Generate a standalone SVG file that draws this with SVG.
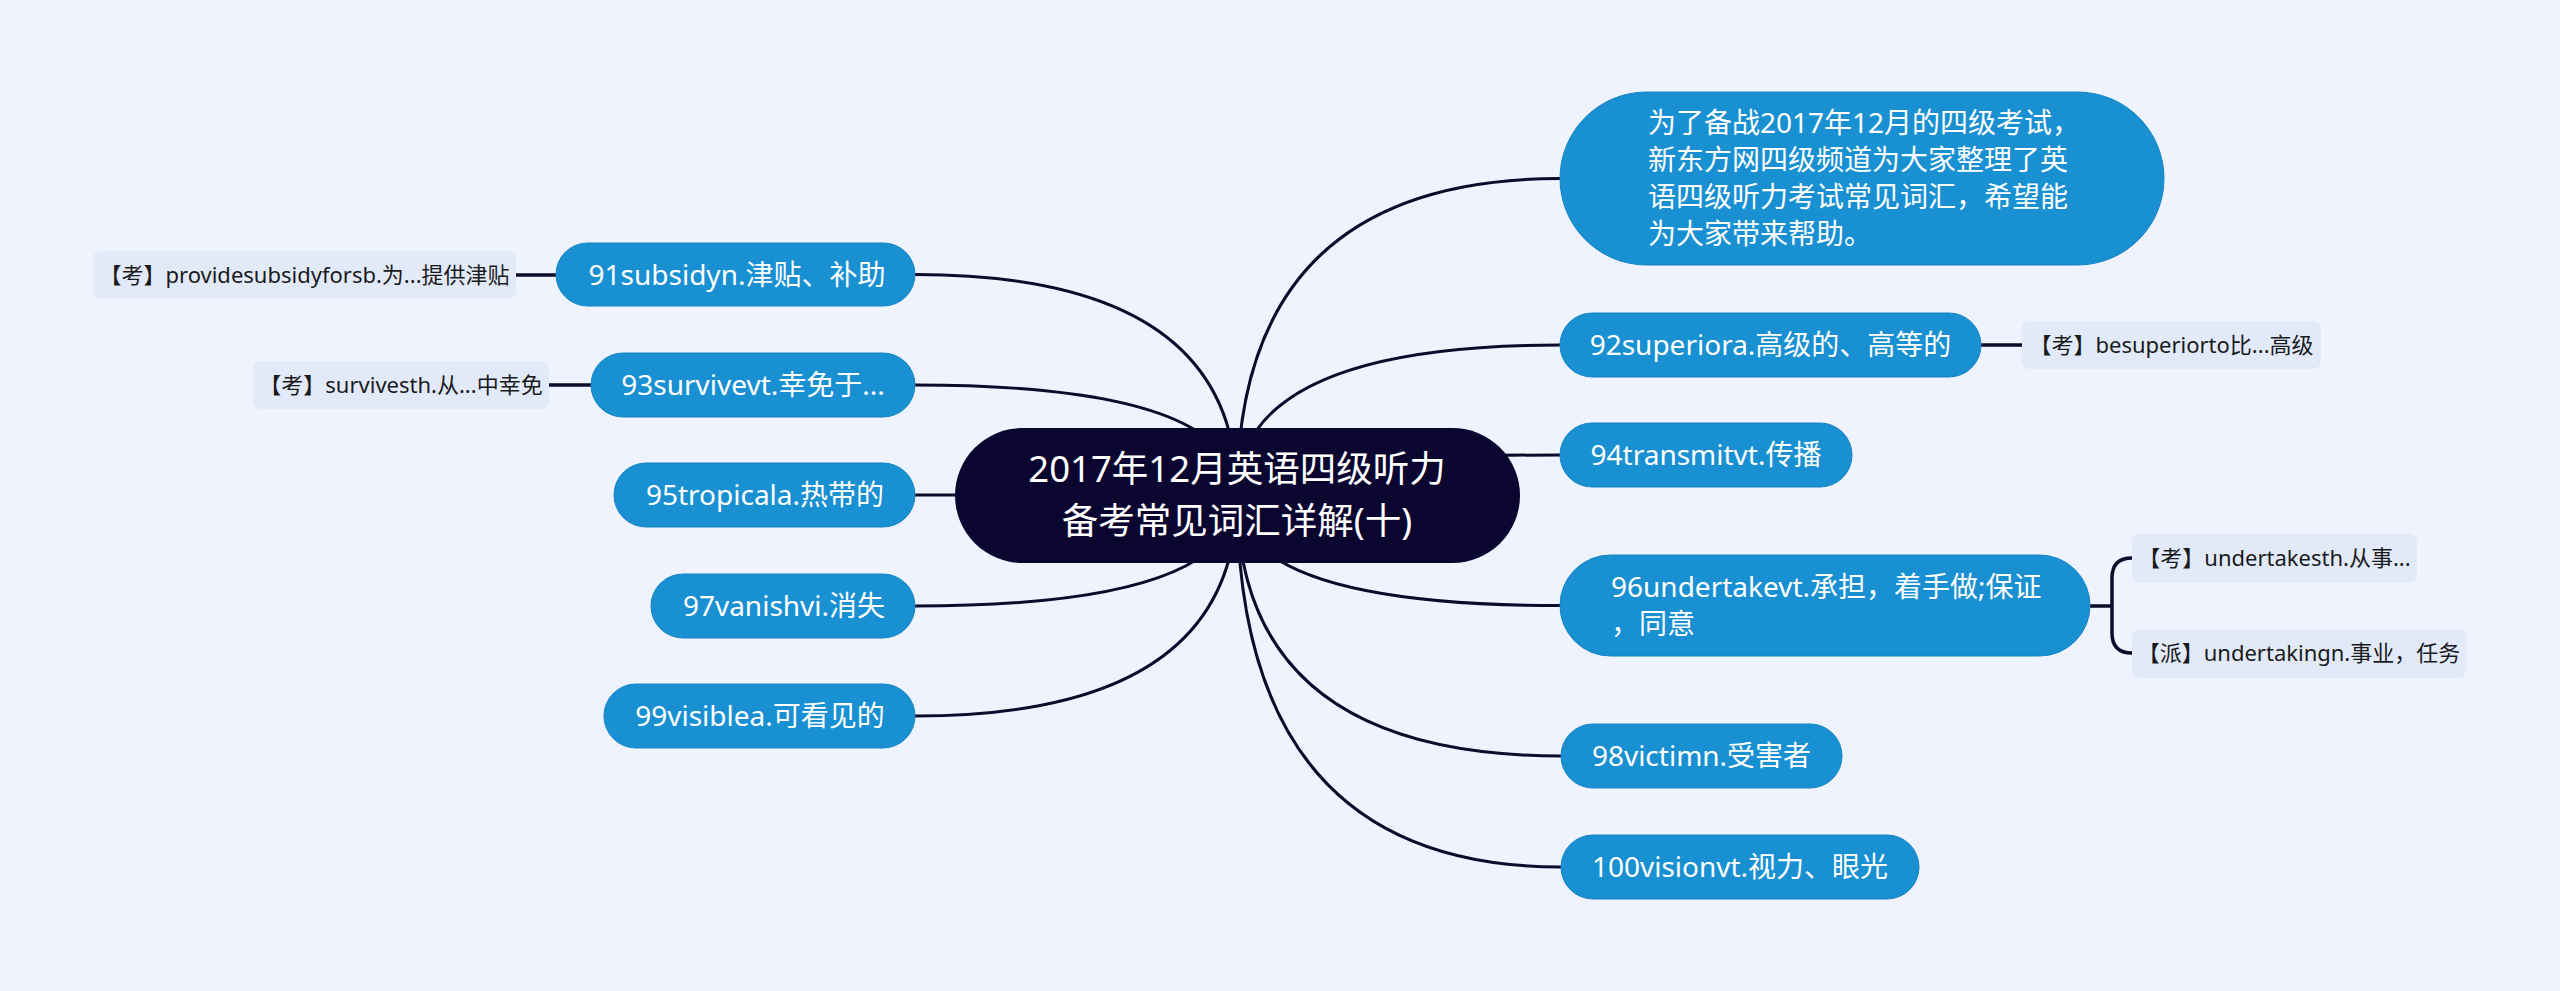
<svg xmlns="http://www.w3.org/2000/svg" width="2560" height="991" viewBox="0 0 2560 991">
<style>
.bg{fill:#eef3fd}
.root{fill:#0b0630}
.blue{fill:#1990d2;stroke:#1683c4;stroke-width:1}
.sub{fill:#e2eafa}
.rt{font-family:"Noto Sans","Noto Sans CJK SC",sans-serif;font-size:36.5px;fill:#ffffff;text-anchor:middle}
.bt{font-family:"Noto Sans","Noto Sans CJK SC",sans-serif;font-size:28px;fill:#ffffff;text-anchor:middle}
.bl{font-family:"Noto Sans","Noto Sans CJK SC",sans-serif;font-size:28px;fill:#ffffff}
.st{font-family:"Noto Sans","Noto Sans CJK SC",sans-serif;font-size:22px;fill:#1a1a1a;text-anchor:middle}
.ln{fill:none;stroke:#0d0a2b;stroke-width:3;stroke-linecap:round}
.ls{fill:none;stroke:#0d0a2b;stroke-width:3.5}
</style>
<rect class="bg" x="0" y="0" width="2560" height="991"/>
<g id="connectors">
<path class="ln" d="M1237 495 Q1237 274.5 915 274.5"/>
<path class="ln" d="M1237 495 Q1237 385 915 385"/>
<path class="ln" d="M1237 495 L915 495"/>
<path class="ln" d="M1237 495 Q1237 606 915 606"/>
<path class="ln" d="M1237 495 Q1237 716 915 716"/>
<path class="ln" d="M1237 495 Q1237 178.5 1560 178.5"/>
<path class="ln" d="M1237 495 Q1237 345 1560 345"/>
<path class="ln" d="M1237 495 Q1237 455 1560 455"/>
<path class="ln" d="M1237 495 Q1237 605.5 1560 605.5"/>
<path class="ln" d="M1237 495 Q1237 756 1561 756"/>
<path class="ln" d="M1237 495 Q1237 867 1561 867"/>
<path class="ls" d="M516 275 H556"/>
<path class="ls" d="M549 385 H591"/>
<path class="ls" d="M1981 345 H2022"/>
<path class="ls" d="M2090 606 H2112"/>
<path class="ls" d="M2132 558 Q2112 558 2112 578 V633 Q2112 653 2132 653"/>
</g>
<g id="root">
<rect class="root" x="955" y="428" width="565" height="135" rx="67.5"/>
<text class="rt" x="1237" y="482">2017年12月英语四级听力</text>
<text class="rt" x="1237" y="534">备考常见词汇详解(十)</text>
</g>
<g id="n91">
<rect class="blue" x="556" y="243" width="359" height="63" rx="31.5"/>
<text class="bt" x="737" y="284.5">91subsidyn.津贴、补助</text>
</g>
<g id="n91s">
<rect class="sub" x="93" y="251" width="423" height="48" rx="8"/>
<text class="st" x="304.5" y="283">【考】providesubsidyforsb.为...提供津贴</text>
</g>
<g id="n93">
<rect class="blue" x="591" y="353" width="324" height="64" rx="32"/>
<text class="bt" x="753" y="395">93survivevt.幸免于...</text>
</g>
<g id="n93s">
<rect class="sub" x="253" y="361" width="296" height="48" rx="8"/>
<text class="st" x="401" y="393">【考】survivesth.从...中幸免</text>
</g>
<g id="n95">
<rect class="blue" x="614" y="463" width="301" height="64" rx="32"/>
<text class="bt" x="765" y="505">95tropicala.热带的</text>
</g>
<g id="n97">
<rect class="blue" x="651" y="574" width="264" height="64" rx="32"/>
<text class="bt" x="784" y="616">97vanishvi.消失</text>
</g>
<g id="n99">
<rect class="blue" x="604" y="684" width="311" height="64" rx="32"/>
<text class="bt" x="760" y="726">99visiblea.可看见的</text>
</g>
<g id="intro">
<rect class="blue" x="1560" y="92" width="604" height="173" rx="86.5"/>
<text class="bl" x="1648" y="133">为了备战2017年12月的四级考试，</text>
<text class="bl" x="1648" y="170">新东方网四级频道为大家整理了英</text>
<text class="bl" x="1648" y="207">语四级听力考试常见词汇，希望能</text>
<text class="bl" x="1648" y="244">为大家带来帮助。</text>
</g>
<g id="n92">
<rect class="blue" x="1560" y="313" width="421" height="64" rx="32"/>
<text class="bt" x="1770.5" y="355">92superiora.高级的、高等的</text>
</g>
<g id="n92s">
<rect class="sub" x="2022" y="321" width="299" height="48" rx="8"/>
<text class="st" x="2171.5" y="353">【考】besuperiorto比...高级</text>
</g>
<g id="n94">
<rect class="blue" x="1560" y="423" width="292" height="64" rx="32"/>
<text class="bt" x="1706" y="465">94transmitvt.传播</text>
</g>
<g id="n96">
<rect class="blue" x="1560" y="555" width="530" height="101" rx="50.5"/>
<text class="bl" x="1611" y="597">96undertakevt.承担，着手做;保证</text>
<text class="bl" x="1611" y="634">，同意</text>
</g>
<g id="n96a">
<rect class="sub" x="2132" y="534" width="285" height="49" rx="8"/>
<text class="st" x="2274.5" y="566">【考】undertakesth.从事...</text>
</g>
<g id="n96b">
<rect class="sub" x="2132" y="629" width="334" height="49" rx="8"/>
<text class="st" x="2299" y="661">【派】undertakingn.事业，任务</text>
</g>
<g id="n98">
<rect class="blue" x="1561" y="724" width="281" height="64" rx="32"/>
<text class="bt" x="1701.5" y="766">98victimn.受害者</text>
</g>
<g id="n100">
<rect class="blue" x="1561" y="835" width="358" height="64" rx="32"/>
<text class="bt" x="1740" y="877">100visionvt.视力、眼光</text>
</g>
</svg>
